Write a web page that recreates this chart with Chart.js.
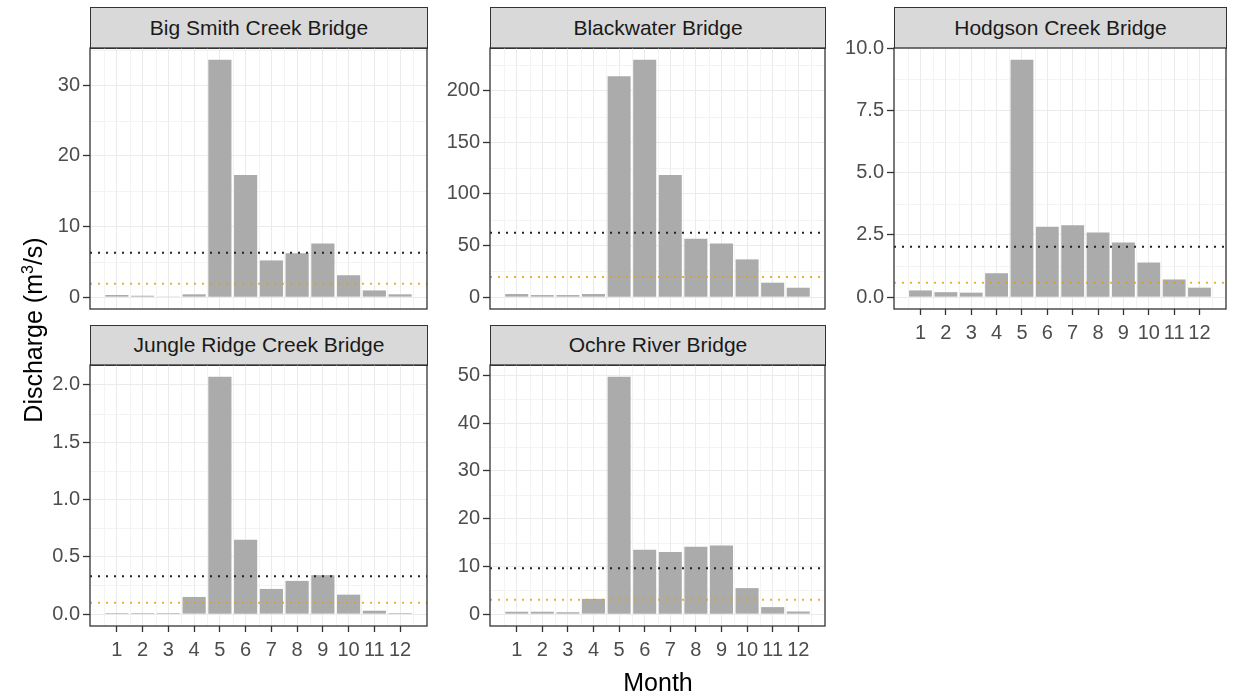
<!DOCTYPE html>
<html>
<head>
<meta charset="utf-8">
<script src="https://cdn.jsdelivr.net/npm/chart.js@4.4.1/dist/chart.umd.min.js"></script>
<style>
  body { margin: 0; background: #fff; font-family: "Liberation Sans", Arial, sans-serif; }
  #wrap { position: relative; width: 1233px; height: 693px; overflow: hidden; background: #fff; }
  .strip {
    position: absolute; box-sizing: border-box; border: 1px solid #333;
    background: #d9d9d9; color: #1a1a1a; font-size: 21px; text-align: center;
  }
  .panel { position: absolute; }
  .title { position: absolute; color: #000; font-size: 25px; text-align: center; white-space: nowrap; }
  .title sup { font-size: 16px; }
</style>
</head>
<body>
<div id="wrap"></div>
<script>
const FONT = '"Liberation Sans", Arial, sans-serif';

const months = [1, 2, 3, 4, 5, 6, 7, 8, 9, 10, 11, 12];
const stations = ['Big Smith Creek Bridge', 'Blackwater Bridge', 'Hodgson Creek Bridge',
                  'Jungle Ridge Creek Bridge', 'Ochre River Bridge'];

// mean monthly discharge, m3/s
const bigSmith    = [0.3, 0.2, 0.1, 0.4, 33.6, 17.3, 5.2, 6.2, 7.6, 3.1, 0.95, 0.4];
const blackwater  = [3, 2, 2, 3, 214, 230, 118.5, 56.7, 52.1, 36.6, 14, 9.1];
const hodgson     = [0.27, 0.2, 0.18, 0.96, 9.53, 2.83, 2.89, 2.6, 2.19, 1.39, 0.71, 0.38];
const jungleRidge = [0.01, 0.01, 0.01, 0.15, 2.07, 0.65, 0.22, 0.29, 0.34, 0.17, 0.03, 0.01];
const ochre       = [0.5, 0.5, 0.4, 3.2, 49.7, 13.5, 13.0, 14.1, 14.4, 5.45, 1.47, 0.55];

// dotted reference lines (black = upper, orange = lower)
const upperLine = [6.3, 62.5, 2.02, 0.33, 9.6];
const lowerLine = [1.9, 19.4, 0.58, 0.1, 3.0];

const yTickLabels = [
  ['0', '10', '20', '30'],
  ['0', '50', '100', '150', '200'],
  ['0.0', '2.5', '5.0', '7.5', '10.0'],
  ['0.0', '0.5', '1.0', '1.5', '2.0'],
  ['0', '10', '20', '30', '40', '50']
];

const series = [bigSmith, blackwater, hodgson, jungleRidge, ochre];

// panel placement (plot area edges in page pixels)
const COLS = [{ l: 90, r: 427 }, { l: 490, r: 825 }, { l: 894, r: 1226 }];
const ROWS = [{ strip: 7, top: 48, bottom: 309 }, { strip: 325, top: 365, bottom: 626 }];
const LAYOUT = [
  { col: 0, row: 0, showX: false },
  { col: 1, row: 0, showX: false },
  { col: 2, row: 0, showX: true },
  { col: 0, row: 1, showX: true },
  { col: 1, row: 1, showX: true }
];
const Y_W = 62, X_H = 38, TOP_PAD = 14;

const minorGrid = {
  id: 'minorGrid',
  beforeDraw(chart) {
    const { ctx, chartArea: a, scales } = chart;
    const x = scales.x, y = scales.y;
    ctx.save();
    ctx.strokeStyle = '#f3f3f3';
    ctx.lineWidth = 1;
    ctx.beginPath();
    for (let i = 0; i <= months.length; i++) {
      const v = (i === 0 ? months[0] - 1 : months[i - 1]) + 0.5;
      if (v < x.min || v > x.max) continue;
      const px = Math.round(x.getPixelForValue(v)) + 0.5;
      ctx.moveTo(px, a.top); ctx.lineTo(px, a.bottom);
    }
    const yt = y.ticks.map(t => t.value);
    const step = yt[1] - yt[0];
    for (let v = yt[0] - step / 2; v <= y.max; v += step) {
      if (v < y.min) continue;
      const py = Math.round(y.getPixelForValue(v)) + 0.5;
      ctx.moveTo(a.left, py); ctx.lineTo(a.right, py);
    }
    ctx.stroke();
    ctx.restore();
  }
};

const panelBorder = {
  id: 'panelBorder',
  afterDatasetsDraw(chart) {
    const { ctx, chartArea: a } = chart;
    ctx.save();
    ctx.strokeStyle = '#333';
    ctx.lineWidth = 1.3;
    ctx.strokeRect(a.left, a.top, a.right - a.left, a.bottom - a.top);
    ctx.restore();
  }
};

const wrap = document.getElementById('wrap');

function makePanel(i) {
  const lay = LAYOUT[i];
  const col = COLS[lay.col], row = ROWS[lay.row];
  const vals = series[i];
  const yLabs = yTickLabels[i];

  const hi = Math.max(...vals);
  const yMin = -0.05 * hi, yMax = 1.05 * hi;
  const lo = months[0] - 0.45, hx = months[months.length - 1] + 0.45;
  const xMin = lo - 0.05 * (hx - lo), xMax = hx + 0.05 * (hx - lo);

  const strip = document.createElement('div');
  strip.className = 'strip';
  strip.textContent = stations[i];
  strip.style.left = col.l + 'px';
  strip.style.top = row.strip + 'px';
  strip.style.width = (col.r - col.l + 1) + 'px';
  strip.style.height = (row.top - row.strip + 1) + 'px';
  strip.style.lineHeight = (row.top - row.strip - 2) + 'px';
  wrap.appendChild(strip);

  const cv = document.createElement('canvas');
  cv.className = 'panel';
  const w = col.r - col.l + Y_W + 2;
  const h = row.bottom - row.top + TOP_PAD + (lay.showX ? X_H : 1);
  cv.width = w; cv.height = h;
  cv.style.left = (col.l - Y_W) + 'px';
  cv.style.top = (row.top - TOP_PAD) + 'px';
  wrap.appendChild(cv);

  new Chart(cv, {
    data: {
      datasets: [
        {
          type: 'line',
          data: [{ x: xMin, y: upperLine[i] }, { x: xMax, y: upperLine[i] }],
          borderColor: '#222',
          borderWidth: 2,
          borderDash: [2, 6],
          pointRadius: 0,
          order: 1
        },
        {
          type: 'line',
          data: [{ x: xMin, y: lowerLine[i] }, { x: xMax, y: lowerLine[i] }],
          borderColor: 'rgba(230,159,0,0.8)',
          borderWidth: 2,
          borderDash: [2, 6],
          pointRadius: 0,
          order: 1
        },
        {
          type: 'bar',
          data: months.map((m, k) => ({ x: m, y: vals[k] })),
          backgroundColor: '#ababab',
          borderWidth: 0,
          categoryPercentage: 1,
          barPercentage: 0.9,
          order: 2
        }
      ]
    },
    options: {
      responsive: false,
      animation: false,
      layout: { padding: { top: TOP_PAD, right: 2, left: 0, bottom: 0 } },
      plugins: { legend: { display: false }, tooltip: { enabled: false } },
      scales: {
        x: {
          type: 'linear',
          offset: false,
          min: xMin, max: xMax,
          afterBuildTicks: s => { s.ticks = months.map(v => ({ value: v })); },
          afterFit: s => {
            s.height = lay.showX ? X_H : 1;
            s.paddingLeft = 0; s.paddingRight = 0;
          },
          ticks: {
            display: lay.showX, autoSkip: false, maxRotation: 0,
            color: '#4d4d4d', font: { size: 20, family: FONT }, padding: 6,
            callback: v => String(v)
          },
          grid: {
            offset: false, color: '#ebebeb', lineWidth: 1,
            drawTicks: lay.showX, tickLength: 6, tickColor: '#333', tickWidth: 1.3
          },
          border: { display: false }
        },
        y: {
          type: 'linear',
          min: yMin, max: yMax,
          afterBuildTicks: s => { s.ticks = yLabs.map(t => ({ value: +t })); },
          afterFit: s => {
            s.width = Y_W;
            s.paddingTop = 0; s.paddingBottom = 0;
          },
          ticks: {
            autoSkip: false, color: '#4d4d4d', font: { size: 20, family: FONT }, padding: 3,
            callback: (v, idx) => yLabs[idx]
          },
          grid: { color: '#ebebeb', lineWidth: 1, tickLength: 7, tickColor: '#333', tickWidth: 1.3 },
          border: { display: false }
        }
      }
    },
    plugins: [minorGrid, panelBorder]
  });
}

stations.forEach((_, i) => makePanel(i));

const yTitle = document.createElement('div');
yTitle.className = 'title';
yTitle.innerHTML = 'Discharge (m<sup>3</sup>/s)';
Object.assign(yTitle.style, {
  left: (28 - 150) + 'px', top: (330 - 16) + 'px', width: '300px',
  height: '32px', lineHeight: '32px', transform: 'rotate(-90deg)'
});
wrap.appendChild(yTitle);

const xTitle = document.createElement('div');
xTitle.className = 'title';
xTitle.textContent = 'Month';
Object.assign(xTitle.style, {
  left: (658 - 100) + 'px', top: '666px', width: '200px', height: '32px', lineHeight: '32px'
});
wrap.appendChild(xTitle);
</script>
</body>
</html>
